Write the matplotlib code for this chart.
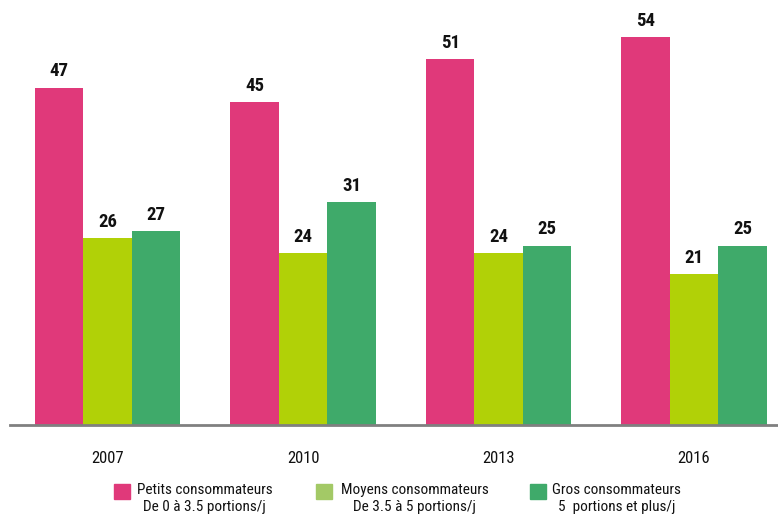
import numpy as np
import matplotlib
matplotlib.use("Agg")
import matplotlib.pyplot as plt
from matplotlib import font_manager as fm
from matplotlib.patches import Rectangle

years = ["2007", "2010", "2013", "2016"]
petits = [47, 45, 51, 54]
moyens = [26, 24, 24, 21]
gros = [27, 31, 25, 25]

series = [petits, moyens, gros]
bar_colors = ["#e0397a", "#b1d107", "#3faa6a"]
swatch_colors = ["#e0397a", "#a3c966", "#3faa6a"]
labels = ["Petits consommateurs\nDe 0 à 3.5 portions/j",
          "Moyens consommateurs\nDe 3.5 à 5 portions/j",
          "Gros consommateurs\n5  portions et plus/j"]

# pick a condensed face if one is around
names = {f.name for f in fm.fontManager.ttflist}
stretch = "normal"
family = "DejaVu Sans"
for cand in ["Liberation Sans Narrow", "Roboto Condensed", "Open Sans Condensed"]:
    if cand in names:
        family = cand
        break
else:
    if any(f.name == "DejaVu Sans" and f.stretch == "condensed" for f in fm.fontManager.ttflist):
        stretch = "condensed"
plt.rcParams['font.family'] = [family, 'DejaVu Sans']
plt.rcParams['font.stretch'] = stretch

W, H = 778, 521
fig = plt.figure(figsize=(W / 100, H / 100), dpi=100)
ax = fig.add_axes([10 / W, 1 - 425 / H, 1 - 10 / W, 425 / H])

x = np.arange(len(years))
bw = 0.248
for i, (vals, col) in enumerate(zip(series, bar_colors)):
    pos = x + (i - 1) * bw
    ax.bar(pos, vals, width=bw, color=col, edgecolor="none")
    for p, v in zip(pos, vals):
        ax.text(p, v + 1.0, str(v), ha="center", va="bottom",
                fontsize=13.5, fontweight="bold", color="#111111")

ax.set_xlim(-0.5, 3.43)
ax.set_ylim(0, 59.2)
for s in ["top", "right", "left"]:
    ax.spines[s].set_visible(False)
ax.spines["bottom"].set_color("#808080")
ax.spines["bottom"].set_linewidth(2)
ax.set_yticks([])
ax.set_xticks(x)
ax.set_xticklabels(years, fontsize=12, color="#111111")
ax.tick_params(axis="x", length=0, pad=19)

# legend drawn by hand to mimic the two-line centred labels
sw_x = [114, 316, 530]
tx_x = [137, 341, 552]
for sx, tx, col, lab in zip(sw_x, tx_x, swatch_colors, labels):
    fig.patches.append(Rectangle((sx / W, 1 - 499 / H), 16 / W, 15 / H,
                                 transform=fig.transFigure, color=col))
    fig.text(tx / W, 1 - 483 / H, lab, ha="left", va="top",
             multialignment="center", fontsize=11, color="#111111",
             linespacing=1.25)

fig.savefig("out.png", dpi=100)
